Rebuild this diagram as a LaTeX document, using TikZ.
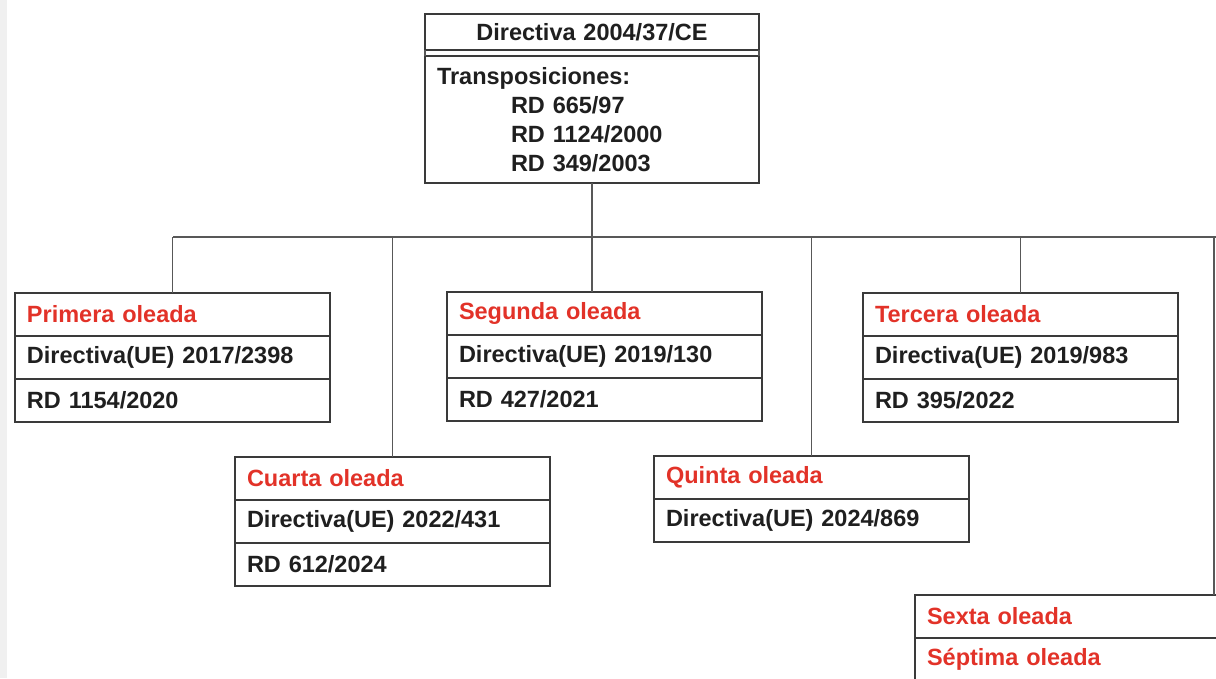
\documentclass[tikz,border=0pt]{standalone}
\usepackage{fontspec}
\setmainfont{Liberation Sans}
\definecolor{rojo}{RGB}{226,50,40}
\definecolor{trazo}{RGB}{58,58,58}
\begin{document}
\begin{tikzpicture}[x=1pt,y=-1pt]
		\def\AnchoTexto{291}
		\def\AltoFila{43}
		\tikzstyle{fila}=[draw=trazo,line width=1.8pt,rectangle,anchor=north west,inner xsep=12pt,inner ysep=0pt,outer sep=0pt,text width=\AnchoTexto pt,minimum height=\AltoFila pt,align=left,text=black!88,font=\bfseries\fontsize{23.5}{29}\selectfont]
		\tikzstyle{titulo}=[fila,text=rojo]
		\tikzstyle{cabecera}=[fila,text width=310pt,align=center,minimum height=36pt]
		\tikzstyle{cuerpo}=[fila,text width=310pt,minimum height=127pt]
		\tikzstyle{linea}=[draw=trazo!85,line width=1.6pt]
		\def\Sangria{\hspace*{74pt}}
		\clip (0,0) rectangle (1216,678);
		\fill[gray!12] (0,0) rectangle (7,678);
		% caja superior
		\node[cabecera] (Dir) at (425,14) {Directiva 2004/37/CE};
		\node[cuerpo] (Trans) at (425,56) {Transposiciones:\\\Sangria RD 665/97\\\Sangria RD 1124/2000\\\Sangria RD 349/2003};
		\draw[linea,line width=1.8pt] (Dir.south west)--(Trans.north west);
		\draw[linea,line width=1.8pt] (Dir.south east)--(Trans.north east);
		% oleadas
		\node[titulo] (Pa) at (15,293) {Primera oleada};
		\node[fila] (Pb) at (Pa.south west) {Directiva(UE) 2017/2398};
		\node[fila] (Pc) at (Pb.south west) {RD 1154/2020};
		\node[titulo] (Sa) at (447,292) {Segunda oleada};
		\node[fila] (Sb) at (Sa.south west) {Directiva(UE) 2019/130};
		\node[fila] (Sc) at (Sb.south west) {RD 427/2021};
		\node[titulo] (Ta) at (863,293) {Tercera oleada};
		\node[fila] (Tb) at (Ta.south west) {Directiva(UE) 2019/983};
		\node[fila] (Tc) at (Tb.south west) {RD 395/2022};
		\node[titulo] (Ca) at (235,457) {Cuarta oleada};
		\node[fila] (Cb) at (Ca.south west) {Directiva(UE) 2022/431};
		\node[fila] (Cc) at (Cb.south west) {RD 612/2024};
		\node[titulo] (Qa) at (654,456) {Quinta oleada};
		\node[fila] (Qb) at (Qa.south west) {Directiva(UE) 2024/869};
		\node[titulo] (Xa) at (915,595) {Sexta oleada};
		\node[titulo] (Xb) at (Xa.south west) {Séptima oleada};
		% conectores
		\coordinate (BusIzq) at (173,237);
		\coordinate (BusDer) at (1214,237);
		\coordinate (BusFin) at (1222,237);
		\draw[linea] (BusIzq)--(BusFin);
		\draw[linea] (Trans.south)--(Trans.south |- Sa.north);
		\draw[linea] (Pa.north)--(Pa.north |- BusIzq);
		\draw[linea] (Ta.north)--(Ta.north |- BusIzq);
		\draw[linea] (Ca.north)--(Ca.north |- BusIzq);
		\draw[linea] (Qa.north)--(Qa.north |- BusIzq);
		\draw[linea] (BusDer)--(BusDer |- Xa.north);
	\end{tikzpicture}
\end{document}
